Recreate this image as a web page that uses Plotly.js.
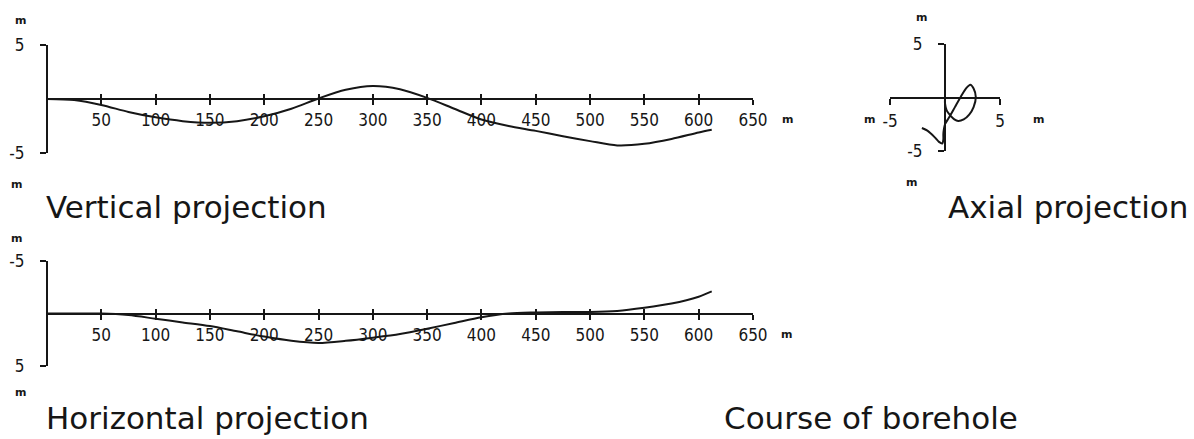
<!DOCTYPE html>
<html><head><meta charset="utf-8">
<script src="https://cdn.plot.ly/plotly-3.0.1.min.js"></script>
<style>html,body{margin:0;padding:0;background:#fff}#chart{width:1194px;height:439px}</style>
</head><body><div id="chart"></div>
<script>
// ---- data ----
const depth      = [0, 25, 50, 75, 100, 125, 150, 175, 200, 225, 250, 275, 300, 325, 350, 375, 400, 425, 450, 475, 500, 525, 550, 575, 600, 612];
const vertical   = [0, -0.1, -0.55, -1.2, -1.7, -2.05, -2.2, -2.05, -1.6, -0.9, 0.05, 0.85, 1.2, 0.9, 0.1, -0.9, -1.9, -2.5, -2.95, -3.45, -3.9, -4.3, -4.15, -3.7, -3.1, -2.85];
const horizontal = [0, 0, 0, 0.15, 0.5, 0.85, 1.2, 1.7, 2.2, 2.6, 2.8, 2.6, 2.3, 1.95, 1.45, 0.9, 0.35, 0, -0.1, -0.15, -0.15, -0.25, -0.55, -0.95, -1.6, -2.1];
const depthTicks = [50, 100, 150, 200, 250, 300, 350, 400, 450, 500, 550, 600, 650];
const devTicks   = [-5, 5];
const devTickText = ["-5", "5"];
const titles     = ["Vertical projection", "Horizontal projection", "Axial projection", "Course of borehole"];
const unit       = "m";

// ---- layout helpers ----
const W = 1194, H = 439;
const px = x => x / W, py = y => 1 - y / H;
const INK = '#161616';
const tickFont = {family: 'Liberation Sans Narrow, DejaVu Sans Condensed, Arial Narrow, sans-serif', size: 17, color: INK};
const titleFont = {family: 'DejaVu Sans, Verdana, sans-serif', size: 31, color: INK};
const unitFont = {family: 'DejaVu Sans, sans-serif', size: 11, color: INK, weight: 700};

const lineStyle = {color: INK, width: 2, shape: 'spline', smoothing: 0.8};

function xAxis(domPx, range, posY, vals, extra) {
  return Object.assign({
    domain: [px(domPx[0]), px(domPx[1])], range: range, anchor: 'free', position: py(posY),
    tickvals: vals, ticks: 'outside', ticklen: 5, tickwidth: 2, tickcolor: INK,
    showline: true, linewidth: 2, linecolor: INK, showgrid: false, zeroline: false,
    tickfont: tickFont, fixedrange: true
  }, extra || {});
}
function yAxis(domPx, range, posX, vals, extra) {
  return Object.assign({
    domain: [py(domPx[1]), py(domPx[0])], range: range, anchor: 'free', position: px(posX),
    tickvals: vals, ticktext: devTickText, ticks: 'outside', ticklen: 6, tickwidth: 2, tickcolor: INK,
    showline: true, linewidth: 2, linecolor: INK, showgrid: false, zeroline: false,
    tickfont: tickFont, fixedrange: true
  }, extra || {});
}
function overlayAxis(base, over) {
  return Object.assign({}, base, {overlaying: over, ticks: 'inside', showticklabels: false, showline: false});
}

// panel geometry (pixels)
const topX = [47, 753], topY = [45, 153];
const botX = [47, 753], botY = [261, 366];
const axX = [890, 1000], axY = [44, 151];

const xa1 = xAxis(topX, [0, 650], (topY[0] + topY[1]) / 2, depthTicks, {ticklabelstandoff: 1});
const ya1 = yAxis(topY, [-5, 5], topX[0], devTicks, {ticklabelstandoff: 12});
const xa2 = xAxis(botX, [0, 650], (botY[0] + botY[1]) / 2, depthTicks, {ticklabelstandoff: 1});
const ya2 = yAxis(botY, [5, -5], botX[0], devTicks, {ticklabelstandoff: 12});
const xa3 = xAxis(axX, [-5, 5], (axY[0] + axY[1]) / 2, devTicks, {ticktext: devTickText, ticklen: 6, ticklabelstandoff: 2});
const ya3 = yAxis(axY, [-5, 5], (axX[0] + axX[1]) / 2, devTicks, {ticklabelstandoff: 12});

const layout = {
  width: W, height: H, autosize: false,
  margin: {l: 0, r: 0, t: 0, b: 0},
  paper_bgcolor: '#ffffff', plot_bgcolor: 'rgba(0,0,0,0)',
  showlegend: false,
  xaxis: xa1, yaxis: ya1,
  xaxis2: xa2, yaxis2: ya2,
  xaxis3: xa3, yaxis3: ya3,
  xaxis4: overlayAxis(xa1, 'x'), yaxis4: overlayAxis(ya1, 'y'),
  xaxis5: overlayAxis(xa2, 'x2'), yaxis5: overlayAxis(ya2, 'y2'),
  xaxis6: overlayAxis(xa3, 'x3'), yaxis6: overlayAxis(ya3, 'y3'),
  annotations: []
};

function ann(text, x, y, font, xanchor) {
  layout.annotations.push({text: text, x: px(x), y: py(y), xref: 'paper', yref: 'paper',
    showarrow: false, xanchor: xanchor || 'center', yanchor: 'middle', font: font});
}
// unit labels
ann(unit, 20, 21, unitFont); ann(unit, 16, 184, unitFont); ann(unit, 787, 119, unitFont);
ann(unit, 16, 238, unitFont); ann(unit, 20, 392, unitFont); ann(unit, 786, 334, unitFont);
ann(unit, 921, 18, unitFont); ann(unit, 911, 182, unitFont); ann(unit, 869, 119, unitFont); ann(unit, 1038, 119, unitFont);
// titles
ann(titles[0], 44, 207, titleFont, 'left');
ann(titles[1], 44, 418, titleFont, 'left');
ann(titles[2], 1190, 207, titleFont, 'right');
ann(titles[3], 722, 418, titleFont, 'left');

const data = [
  {x: depth, y: vertical, xaxis: 'x', yaxis: 'y', mode: 'lines', line: lineStyle, hoverinfo: 'skip'},
  {x: depth, y: horizontal, xaxis: 'x2', yaxis: 'y2', mode: 'lines', line: lineStyle, hoverinfo: 'skip'},
  {x: horizontal, y: vertical, xaxis: 'x3', yaxis: 'y3', mode: 'lines', line: lineStyle, hoverinfo: 'skip'},
  {x: [null], y: [null], xaxis: 'x4', yaxis: 'y4', mode: 'lines', hoverinfo: 'skip'},
  {x: [null], y: [null], xaxis: 'x5', yaxis: 'y5', mode: 'lines', hoverinfo: 'skip'},
  {x: [null], y: [null], xaxis: 'x6', yaxis: 'y6', mode: 'lines', hoverinfo: 'skip'}
];

Plotly.newPlot('chart', data, layout, {staticPlot: true, displayModeBar: false});
</script>
</body></html>
